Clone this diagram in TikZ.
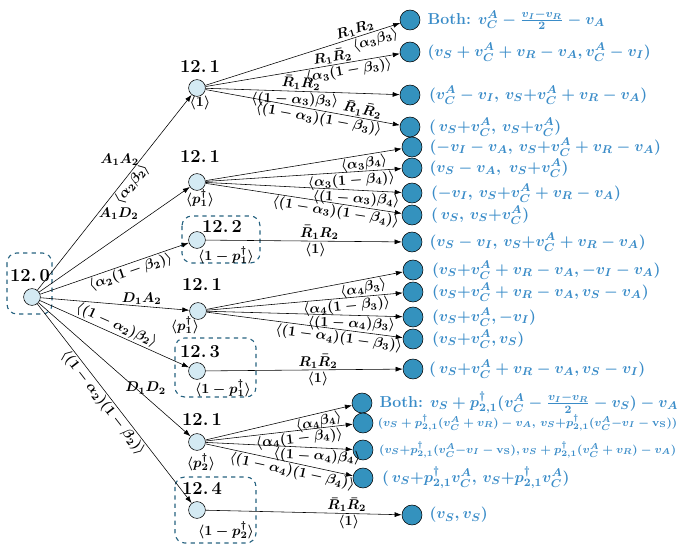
\documentclass[tikz,border=0pt]{standalone}
\usepackage{amsmath}
\usetikzlibrary{arrows.meta, positioning}
\definecolor{leafblue}{RGB}{52,146,190}
\definecolor{paleblue}{RGB}{212,234,243}
\definecolor{payblue}{RGB}{58,140,200}
\definecolor{boxteal}{RGB}{38,98,128}
\tikzset{
  dec/.style={circle, draw, fill=paleblue, minimum size=4.2mm, inner sep=0pt},
  leaf/.style={circle, draw, fill=leafblue, minimum size=5mm, inner sep=0pt},
  setlab/.style={font=\bfseries\fontsize{13}{15}\selectfont, inner sep=0pt},
  prob/.style={font=\boldmath\fontsize{10}{12}\selectfont, inner sep=1pt},
  pay/.style={font=\boldmath\fontsize{11.3}{13}\selectfont, text=payblue, inner sep=0pt},
  paysm/.style={pay, font=\boldmath\fontsize{8.5}{11}\selectfont},
  grpbox/.style={draw=boxteal, dashed, thick, rounded corners=7pt},
  arr/.style={-{Latex[length=5pt,width=3.5pt]}},
}

\begin{document}
\begin{tikzpicture}[x=0.025cm, y=-0.025cm]
\useasboundingbox (0,0) rectangle (692,546);
% information sets
\draw[grpbox] (7,253) rectangle (52,314);
\draw[grpbox] (182,216) rectangle (260,263);
\draw[grpbox] (175,338) rectangle (256,397);
\draw[grpbox] (175,477) rectangle (256,543);
% decision nodes
\node[dec] (r) at (32,297) {};
\node[dec] (a) at (197,88) {};
\node[dec] (b) at (197,182) {};
\node[dec] (c) at (197,240) {};
\node[dec] (d) at (198,311) {};
\node[dec] (e) at (197,371) {};
\node[dec] (f) at (197,442) {};
\node[dec] (g) at (197,510) {};
\node[setlab] (lr) at (30,276) {12.\,0};
\node[setlab] (la) at (200,67) {12.\,1};
\node[setlab] (lb) at (200,157) {12.\,1};
\node[setlab] (lc) at (222,227) {12.\,2};
\node[setlab] (ld) at (202,285) {12.\,1};
\node[setlab] (le) at (200,352) {12.\,3};
\node[setlab] (lf) at (202,420) {12.\,1};
\node[setlab] (lg) at (202,488) {12.\,4};
\node[prob] (pa) at (200,103) {$\langle 1\rangle$};
\node[prob] (pb) at (200,198) {$\langle p_1^\dagger\rangle$};
\node[prob] (pc) at (226,255) {$\langle 1-p_1^\dagger\rangle$};
\node[prob] (pd) at (185,325) {$\langle p_1^\dagger\rangle$};
\node[prob] (pe) at (223,388) {$\langle 1-p_1^\dagger\rangle$};
\node[prob] (pf) at (201,462) {$\langle p_2^\dagger\rangle$};
\node[prob] (pg) at (226,530) {$\langle 1-p_2^\dagger\rangle$};
% leaves
\node[leaf] (l1) at (410,20) {};
\node[leaf] (l2) at (410,52) {};
\node[leaf] (l3) at (410,95) {};
\node[leaf] (l4) at (410,127) {};
\node[leaf] (l5) at (412,147) {};
\node[leaf] (l6) at (412,168) {};
\node[leaf] (l7) at (412,193) {};
\node[leaf] (l8) at (412,215) {};
\node[leaf] (l9) at (412,242) {};
\node[leaf] (l10) at (413,270) {};
\node[leaf] (l11) at (413,292) {};
\node[leaf] (l12) at (413,317) {};
\node[leaf] (l13) at (413,339) {};
\node[leaf] (l14) at (413,369) {};
\node[leaf] (l15) at (362,403) {};
\node[leaf] (l16) at (363,423) {};
\node[leaf] (l17) at (363,450) {};
\node[leaf] (l18) at (363,478) {};
\node[leaf] (l19) at (412,515) {};
% payoffs
\node[pay, right=5pt of l1] (t1) {\textbf{Both:} $v_C^A-\frac{v_I-v_R}{2}-v_A$};
\node[pay, right=5pt of l2] (t2) {$(v_S+v_C^A+v_R-v_A,v_C^A-v_I)$};
\node[pay, right=6pt of l3] (t3) {$(v_C^A-v_I,\,v_S{+}v_C^A+v_R-v_A)$};
\node[pay, right=6pt of l4] (t4) {$(\,v_S{+}v_C^A,\,v_S{+}v_C^A)$};
\node[pay, right=5pt of l5] (t5) {$(-v_I-v_A,\,v_S{+}v_C^A+v_R-v_A)$};
\node[pay, right=5pt of l6] (t6) {$(v_S-v_A,\ v_S{+}v_C^A)$};
\node[pay, right=6pt of l7] (t7) {$(-v_I,\,v_S{+}v_C^A+v_R-v_A)$};
\node[pay, right=6pt of l8] (t8) {$(\,v_S,\,v_S{+}v_C^A)$};
\node[pay, right=5pt of l9] (t9) {$(v_S-v_I,\,v_S{+}v_C^A+v_R-v_A)$};
\node[pay, right=6pt of l10] (t10) {$(v_S{+}v_C^A+v_R-v_A,{-}v_I-v_A)$};
\node[pay, right=6pt of l11] (t11) {$(v_S{+}v_C^A+v_R-v_A,v_S-v_A)$};
\node[pay, right=6pt of l12] (t12) {$(v_S{+}v_C^A,{-}v_I)$};
\node[pay, right=6pt of l13] (t13) {$(v_S{+}v_C^A,v_S)$};
\node[pay, right=4pt of l14] (t14) {$(\,v_S{+}v_C^A+v_R-v_A,v_S-v_I)$};
\node[pay, right=5pt of l15] (t15) {\textbf{Both:} $v_S+p_{2,1}^\dagger(v_C^A-\frac{v_I-v_R}{2}-v_S)-v_A$};
\node[paysm, right=3pt of l16] (t16) {$(v_S+p_{2,1}^\dagger(v_C^A+v_R)-v_A,\,v_S{+}p_{2,1}^\dagger(v_C^A{-}v_I-\mathrm{v_S}))$};
\node[paysm, right=4pt of l17] (t17) {$(v_S{+}p_{2,1}^\dagger(v_C^A{-}v_I-\mathrm{v_S}),v_S+p_{2,1}^\dagger(v_C^A+v_R)-v_A)$};
\node[pay, right=6pt of l18] (t18) {$(\,v_S{+}p_{2,1}^\dagger v_C^A,\,v_S{+}p_{2,1}^\dagger v_C^A)$};
\node[pay, right=5pt of l19] (t19) {$(v_S,v_S)$};
% first stage
\draw[arr] (r) -- (a) node[prob, pos=0.67, left] {$A_1A_2$}
  node[prob, pos=0.57, sloped, below] {$\langle\alpha_2\beta_2\rangle$};
\draw[arr] (r) -- (b) node[prob, pos=0.67, anchor=south east] {$A_1D_2$};
\draw[arr] (r) -- (c) node[prob, pos=0.59, sloped, below] {$\langle\alpha_2(1-\beta_2)\rangle$};
\draw[arr] (r) -- (d) node[prob, pos=0.68, above] {$D_1A_2$};
\draw[arr] (r) -- (e) node[prob, pos=0.49, sloped, above] {$\langle(1-\alpha_2)\beta_2\rangle$};
\draw[arr] (r) -- (f) node[prob, pos=0.64, xshift=7pt] {$D_1D_2$};
\draw[arr] (r) -- (g) node[prob, pos=0.47, sloped, below] {$\langle(1-\alpha_2)(1-\beta_2)\rangle$};
% second stage, 12.1 with <1>
\draw[arr] (a) -- (l1) node[prob, pos=0.78, sloped, above] {$R_1R_2$}
  node[prob, pos=0.86, sloped, below] {$\langle\alpha_3\beta_3\rangle$};
\draw[arr] (a) -- (l2) node[prob, pos=0.66, sloped, above] {$R_1\bar{R}_2$}
  node[prob, pos=0.73, sloped, below] {$\langle\alpha_3(1-\beta_3)\rangle$};
\draw[arr] (a) -- (l3) node[prob, pos=0.49, sloped, above] {$\bar{R}_1R_2$}
  node[prob, pos=0.46, sloped, below] {$\langle(1-\alpha_3)\beta_3\rangle$};
\draw[arr] (a) -- (l4) node[prob, pos=0.8, sloped, above] {$\bar{R}_1\bar{R}_2$}
  node[prob, pos=0.59, sloped, below] {$\langle(1-\alpha_3)(1-\beta_3)\rangle$};
% 12.1 with <p1>
\draw[arr] (b) -- (l5) node[prob, pos=0.8, sloped, below] {$\langle\alpha_3\beta_4\rangle$};
\draw[arr] (b) -- (l6) node[prob, pos=0.74, sloped, below] {$\langle\alpha_3(1-\beta_4)\rangle$};
\draw[arr] (b) -- (l7) node[prob, pos=0.77, sloped, below] {$\langle(1-\alpha_3)\beta_4\rangle$};
\draw[arr] (b) -- (l8) node[prob, pos=0.67, sloped, below] {$\langle(1-\alpha_3)(1-\beta_4)\rangle$};
\draw[arr] (c) -- (l9) node[prob, pos=0.58, above] {$\bar{R}_1R_2$}
  node[prob, pos=0.56, below] {$\langle 1\rangle$};
% 12.1 with <p1> again
\draw[arr] (d) -- (l10) node[prob, pos=0.79, sloped, below] {$\langle\alpha_4\beta_3\rangle$};
\draw[arr] (d) -- (l11) node[prob, pos=0.71, sloped, below] {$\langle\alpha_4(1-\beta_3)\rangle$};
\draw[arr] (d) -- (l12) node[prob, pos=0.74, sloped, below] {$\langle(1-\alpha_4)\beta_3\rangle$};
\draw[arr] (d) -- (l13) node[prob, pos=0.68, sloped, below] {$\langle(1-\alpha_4)(1-\beta_3)\rangle$};
\draw[arr] (e) -- (l14) node[prob, pos=0.57, above] {$R_1\bar{R}_2$}
  node[prob, pos=0.57, below] {$\langle 1\rangle$};
% 12.1 with <p2>
\draw[arr] (f) -- (l15) node[prob, pos=0.76, sloped, below] {$\langle\alpha_4\beta_4\rangle$};
\draw[arr] (f) -- (l16) node[prob, pos=0.63, sloped, below] {$\langle\alpha_4(1-\beta_4)\rangle$};
\draw[arr] (f) -- (l17) node[prob, pos=0.76, sloped, below] {$\langle(1-\alpha_4)\beta_4\rangle$};
\draw[arr] (f) -- (l18) node[prob, pos=0.6, sloped, below] {$\langle(1-\alpha_4)(1-\beta_4)\rangle$};
\draw[arr] (g) -- (l19) node[prob, pos=0.72, above] {$\bar{R}_1\bar{R}_2$}
  node[prob, pos=0.73, below] {$\langle 1\rangle$};
\end{tikzpicture}
\end{document}
